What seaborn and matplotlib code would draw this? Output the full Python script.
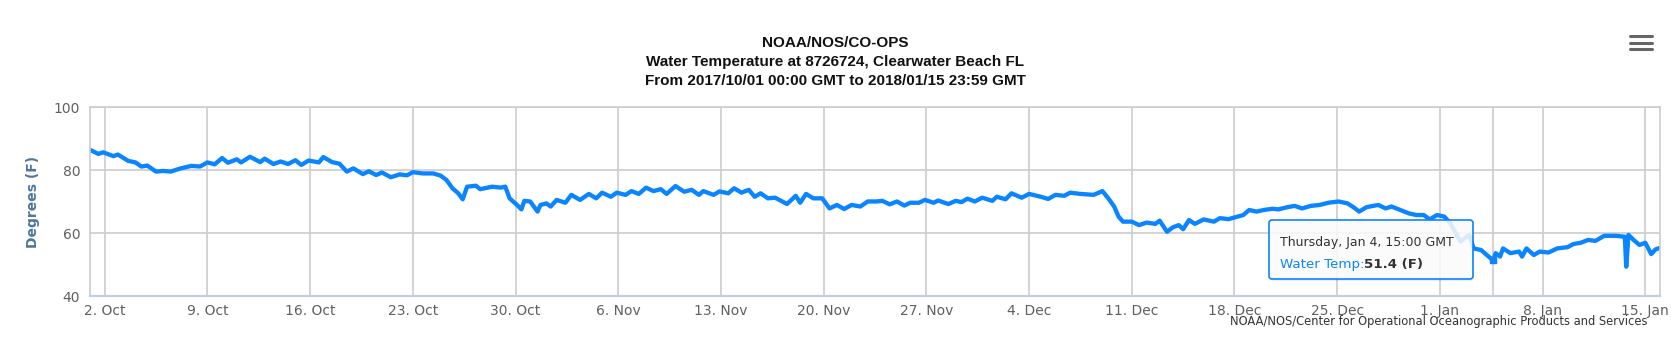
import pandas as pd
import matplotlib
matplotlib.use('Agg')
import matplotlib.pyplot as plt
import matplotlib.dates as mdates
from matplotlib.patches import FancyBboxPatch
from matplotlib.lines import Line2D
from matplotlib.transforms import IdentityTransform
import seaborn as sns

# Water temperature: days since 2017-10-01 00:00 GMT, degrees F
day_offset = [
    0.0, 0.57, 0.9, 1.6, 1.9, 2.6, 3.1, 3.5, 3.9, 4.5, 5.0, 5.5, 6.1, 6.9, 7.5,
    8.0, 8.5, 9.0, 9.4, 10.0, 10.3, 10.9, 11.6, 11.9, 12.5, 13.0, 13.5, 14.0,
    14.4, 14.9, 15.6, 15.9, 16.5, 17.0, 17.5, 17.95, 18.6, 19.0, 19.5, 19.9,
    20.5, 21.1, 21.6, 22.0, 22.7, 23.4, 23.9, 24.3, 24.7, 25.1, 25.4, 25.7,
    26.3, 26.6, 27.4, 28.0, 28.3, 28.6, 29.1, 29.4, 29.6, 30.0, 30.5, 30.7,
    31.1, 31.4, 31.8, 32.4, 32.8, 33.4, 34.0, 34.5, 34.9, 35.5, 35.9, 36.5,
    36.9, 37.4, 37.9, 38.4, 38.9, 39.3, 39.9, 40.5, 41.0, 41.5, 41.8, 42.5,
    42.9, 43.5, 43.9, 44.4, 44.9, 45.3, 45.7, 46.2, 46.7, 47.5, 48.1, 48.4,
    48.8, 49.3, 49.9, 50.4, 50.9, 51.4, 51.9, 52.5, 53.0, 53.6, 54.0, 54.5,
    55.0, 55.5, 55.9, 56.5, 56.9, 57.5, 57.8, 58.5, 59.0, 59.4, 59.8, 60.3,
    60.8, 61.5, 61.8, 62.4, 62.8, 63.5, 64.0, 64.8, 65.3, 65.8, 66.4, 66.8,
    67.5, 68.4, 69.0, 69.4, 69.8, 70.1, 70.4, 71.0, 71.5, 72.0, 72.6, 72.9,
    73.4, 73.8, 74.2, 74.5, 74.9, 75.3, 75.9, 76.6, 77.0, 77.6, 78.2, 78.6,
    79.0, 79.5, 80.0, 80.6, 81.0, 81.6, 82.1, 82.6, 83.2, 83.8, 84.4, 85.1,
    85.7, 86.1, 86.5, 87.0, 87.8, 88.3, 88.7, 89.3, 89.9, 90.4, 90.9, 91.3,
    91.8, 92.3, 92.7, 93.4, 94.0, 94.3, 94.8, 95.625, 95.8, 96.1, 96.3, 96.8,
    97.4, 97.6, 97.9, 98.4, 98.8, 99.4, 100.0, 100.7, 101.1, 101.6, 102.1,
    102.6, 103.2, 104.0, 104.6, 104.7, 104.85, 105.2, 105.6, 106.0, 106.4,
    106.7, 106.95,
]
temp_f = [
    86.5, 85.2, 85.7, 84.5, 85.0, 83.0, 82.5, 81.2, 81.5, 79.6, 79.8, 79.6, 80.5,
    81.4, 81.2, 82.5, 81.9, 83.9, 82.4, 83.5, 82.5, 84.3, 82.6, 83.7, 82.0, 82.8,
    82.0, 83.2, 81.7, 83.1, 82.5, 84.2, 82.6, 82.1, 79.6, 80.6, 78.8, 79.7, 78.5,
    79.3, 77.8, 78.7, 78.4, 79.4, 79.0, 79.0, 78.3, 76.9, 74.3, 72.7, 70.8, 74.8,
    75.1, 74.0, 74.8, 74.5, 74.8, 71.1, 69.0, 67.6, 70.3, 70.1, 66.9, 69.0, 69.5,
    68.5, 70.6, 69.7, 72.2, 70.6, 72.5, 71.1, 72.9, 71.6, 72.9, 72.2, 73.4, 72.5,
    74.5, 73.4, 74.0, 72.5, 75.0, 73.2, 73.8, 72.2, 73.4, 72.2, 73.3, 72.7, 74.3,
    72.9, 73.8, 71.6, 72.7, 71.1, 71.3, 69.3, 71.9, 69.7, 72.5, 71.1, 71.1, 67.9,
    69.0, 67.7, 69.0, 68.5, 70.1, 70.1, 70.3, 69.2, 70.1, 68.8, 69.7, 69.7, 70.6,
    69.7, 70.4, 69.3, 70.3, 69.9, 71.0, 70.1, 71.3, 70.3, 71.6, 70.8, 72.7, 71.3,
    72.5, 71.6, 70.9, 72.2, 71.9, 72.9, 72.5, 72.2, 73.4, 71.1, 68.5, 65.3, 63.7,
    63.7, 62.6, 63.4, 63.0, 64.0, 60.5, 61.9, 62.6, 61.3, 64.2, 63.0, 64.4, 63.7,
    64.8, 64.5, 65.3, 65.8, 67.4, 66.9, 67.4, 67.8, 67.6, 68.3, 68.7, 67.9, 68.7,
    69.0, 69.7, 70.1, 69.5, 68.3, 66.9, 68.3, 69.0, 67.9, 68.5, 67.4, 66.3, 65.8,
    65.8, 64.4, 65.8, 65.3, 63.2, 57.4, 59.5, 55.2, 54.7, 51.4, 53.7, 52.6, 55.2,
    53.7, 54.2, 52.6, 55.2, 53.1, 54.2, 53.9, 55.2, 55.6, 56.6, 57.0, 57.9, 57.6,
    59.2, 59.2, 58.9, 49.4, 59.5, 57.9, 56.3, 57.0, 53.4, 54.9, 55.3,
]

start = pd.Timestamp('2017-10-01 00:00')
end = pd.Timestamp('2018-01-16 00:00')
y_ticks = [40, 60, 80, 100]
week_ticks = pd.date_range('2017-10-02', '2018-01-15', freq='7D')

hover_time = pd.Timestamp('2018-01-04 15:00')
hover_value = 51.4

title_lines = [
    'NOAA/NOS/CO-OPS',
    'Water Temperature at 8726724, Clearwater Beach FL',
    'From 2017/10/01 00:00 GMT to 2018/01/15 23:59 GMT',
]

df = pd.DataFrame({
    'time': start + pd.to_timedelta(day_offset, unit='D'),
    'temp': temp_f,
})

line_color = '#0a84ff'
grid_color = '#cccccc'

sns.set_style('white')
plt.rcParams['font.family'] = ['DejaVu Sans']

W, H = 1671, 355
fig = plt.figure(figsize=(W / 100, H / 100), dpi=100)
ax = fig.add_axes([90 / W, 1 - 296.3 / H, (1660 - 90) / W, (296.3 - 107.3) / H])

sns.lineplot(data=df, x='time', y='temp', ax=ax, color=line_color, linewidth=3.1)

ax.set_xlim(start, end)
ax.set_ylim(40, 100)
ax.set_yticks(y_ticks)
ax.set_xticks(week_ticks)
ax.xaxis.set_major_formatter(mdates.DateFormatter('%-d. %b'))
ax.set_xlabel('')
ax.set_ylabel('Degrees (F)', fontsize=10, fontweight='bold', color='#4d759e', labelpad=10)

ax.grid(True, color=grid_color, linewidth=1.2)
ax.set_axisbelow(True)
ax.tick_params(axis='x', length=4.7, width=1.2, color='#c0d0e0', pad=0.5,
               labelsize=10, labelcolor='#606060')
ax.tick_params(axis='y', length=0, pad=7, labelsize=10, labelcolor='#606060')
for side in ['left', 'right', 'top']:
    ax.spines[side].set_color(grid_color)
    ax.spines[side].set_linewidth(1.2)
ax.spines['bottom'].set_color('#c0d0e0')
ax.spines['bottom'].set_linewidth(1.6)

# crosshair and hovered point
ax.axvline(hover_time, color=grid_color, linewidth=1.2, zorder=1)
ax.plot([hover_time], [hover_value], marker='s', markersize=4.5, color=line_color, zorder=5)

# titles
for line, yy in zip(title_lines, [43, 62, 81]):
    fig.text(0.5, 1 - yy / H, line, ha='center', va='center', fontsize=11,
             fontweight='bold', family='Liberation Sans', color='#111111')

# hamburger menu icon
for yy in [35.7, 42.7, 49.3]:
    fig.add_artist(Line2D([1630 / W, 1652 / W], [1 - yy / H, 1 - yy / H],
                          color='#666666', linewidth=2.2, solid_capstyle='round'))

# tooltip
shadow = FancyBboxPatch((1270, H - 281), 204, 59, boxstyle='round,pad=0,rounding_size=3',
                        transform=IdentityTransform(), facecolor=(0, 0, 0, 0.08),
                        edgecolor='none')
fig.add_artist(shadow)
box = FancyBboxPatch((1269, H - 279), 204, 59, boxstyle='round,pad=0,rounding_size=3',
                     transform=IdentityTransform(), facecolor=(1, 1, 1, 0.85),
                     edgecolor=line_color, linewidth=1.2)
fig.add_artist(box)
fig.text(1280 / W, 1 - 242.5 / H, 'Thursday, Jan 4, 15:00 GMT', fontsize=9,
         color='#333333', va='center', ha='left')
t1 = fig.text(1280 / W, 1 - 268 / H, 'Water Temp:', fontsize=9.6,
              color=line_color, va='baseline', ha='left')
fig.canvas.draw()
ext = t1.get_window_extent()
fig.text(ext.x1 / W, 1 - 268 / H, '%.1f (F)' % hover_value, fontsize=9.6,
         fontweight='bold', color='#333333', va='baseline', ha='left')

# credits
fig.text(1647 / W, 1 - 322 / H, 'NOAA/NOS/Center for Operational Oceanographic Products and Services',
         ha='right', va='center', fontsize=8.3, color='#333333')

fig.savefig('out.png', dpi=100)
